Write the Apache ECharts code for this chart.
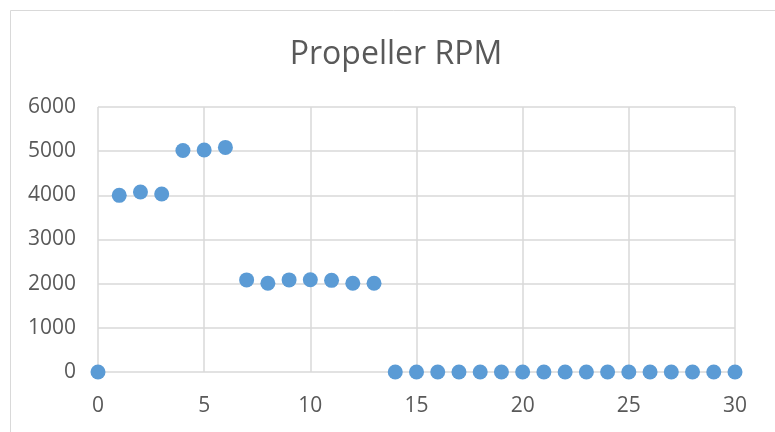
<!DOCTYPE html>
<html>
<head>
<meta charset="utf-8">
<style>
  html, body { margin: 0; padding: 0; background: #ffffff; }
  #chart { width: 775px; height: 432px; }
</style>
<script src="https://cdn.jsdelivr.net/npm/echarts@6/dist/echarts.min.js"></script>
</head>
<body>
<div id="chart"></div>
<script>
// Sample time (x) and measured propeller speed in RPM (y)
const timeSteps = [0, 1, 2, 3, 4, 5, 6, 7, 8, 9, 10, 11, 12, 13, 14, 15, 16, 17, 18, 19, 20, 21, 22, 23, 24, 25, 26, 27, 28, 29, 30];
const rpmValues = [0, 4000, 4075, 4030, 5015, 5025, 5085, 2085, 2010, 2085, 2090, 2075, 2010, 2010, 0, 0, 0, 0, 0, 0, 0, 0, 0, 0, 0, 0, 0, 0, 0, 0, 0];
const chartTitle = 'Propeller RPM';

const points = timeSteps.map((t, i) => [t, rpmValues[i]]);

const fontFamily = '"Open Sans", "Noto Sans", sans-serif';
const chart = echarts.init(document.getElementById('chart'), null, { renderer: 'canvas' });

chart.setOption({
  backgroundColor: '#ffffff',
  animation: false,
  title: {
    text: chartTitle,
    left: 391,
    textAlign: 'center',
    top: 34,
    textStyle: { color: '#595959', fontSize: 32, fontWeight: 'normal', fontFamily: fontFamily }
  },
  graphic: [{
    type: 'rect',
    shape: { x: 10.5, y: 10.5, width: 800, height: 500 },
    style: { fill: null, stroke: '#D9D9D9', lineWidth: 1 },
    silent: true,
    z: -1
  }],
  grid: { left: 98, right: 40, top: 107, bottom: 60, containLabel: false },
  xAxis: {
    type: 'value',
    min: 0,
    max: 30,
    interval: 5,
    axisLine: { show: false },
    axisTick: { show: false },
    axisLabel: { color: '#595959', fontSize: 21, margin: 24, fontFamily: fontFamily },
    splitLine: { show: true, lineStyle: { color: '#D9D9D9', width: 1.5 } }
  },
  yAxis: {
    type: 'value',
    min: 0,
    max: 6000,
    interval: 1000,
    axisLine: { show: false },
    axisTick: { show: false },
    axisLabel: {
      color: '#595959', fontSize: 21, margin: 22, fontFamily: fontFamily,
      formatter: (v) => String(v)
    },
    splitLine: { show: true, lineStyle: { color: '#D9D9D9', width: 1.5 } }
  },
  series: [{
    type: 'scatter',
    data: points,
    symbol: 'circle',
    symbolSize: 15,
    itemStyle: { color: '#5B9BD5', opacity: 1 }
  }]
});
</script>
</body>
</html>
